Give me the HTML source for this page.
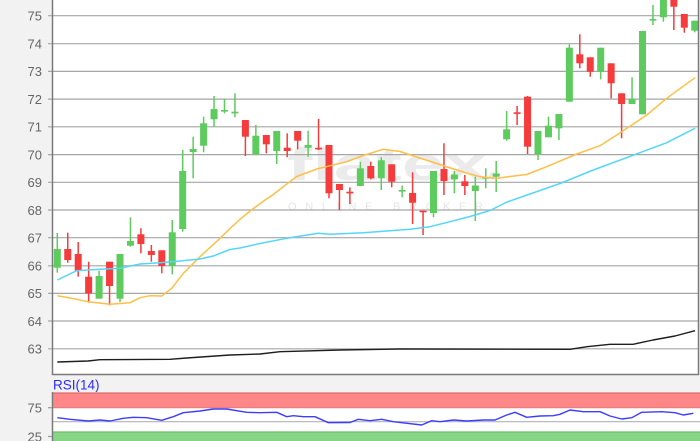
<!DOCTYPE html>
<html><head><meta charset="utf-8"><style>
html,body{margin:0;padding:0;background:#f2f2f2;}
svg{display:block;}
.ax{font-family:"Liberation Sans",Arial,sans-serif;font-size:13px;fill:#666;}
.g line{stroke:#5dcb5d;stroke-width:1.5;}
.g rect{fill:#5dcb5d;}
.r line{stroke:#f53b3b;stroke-width:1.5;}
.r rect{fill:#f53b3b;}
</style></head><body>
<svg width="700" height="441" viewBox="0 0 700 441" xmlns="http://www.w3.org/2000/svg">
<rect x="0" y="0" width="700" height="441" fill="#f2f2f2"/>
<!-- main plot bg -->
<rect x="52" y="0" width="646.5" height="374.5" fill="#ffffff"/>
<defs><clipPath id="pc"><rect x="52.5" y="0" width="645.5" height="374"/></clipPath></defs>
<!-- watermark -->
<text x="287" y="180" textLength="200" lengthAdjust="spacingAndGlyphs" font-family="Liberation Sans, sans-serif" font-weight="bold" font-size="46" fill="#ebebeb">flatex</text>
<circle cx="493" cy="176" r="4" fill="#ebebeb"/>
<text x="288" y="210" textLength="195" lengthAdjust="spacing" font-family="Liberation Sans, sans-serif" font-size="11" fill="#e6e6e6">ONLINE BROKER</text>
<!-- grid -->
<g stroke="#a6a6a6" stroke-width="1.2">
<line x1="48" y1="15.7" x2="698" y2="15.7"/>
<line x1="48" y1="43.7" x2="698" y2="43.7"/>
<line x1="48" y1="71.4" x2="698" y2="71.4"/>
<line x1="48" y1="99.1" x2="698" y2="99.1"/>
<line x1="48" y1="126.8" x2="698" y2="126.8"/>
<line x1="48" y1="154.6" x2="698" y2="154.6"/>
<line x1="48" y1="182.3" x2="698" y2="182.3"/>
<line x1="48" y1="210" x2="698" y2="210"/>
<line x1="48" y1="237.7" x2="698" y2="237.7"/>
<line x1="48" y1="265.8" x2="698" y2="265.8"/>
<line x1="48" y1="293.4" x2="698" y2="293.4"/>
<line x1="48" y1="321" x2="698" y2="321"/>
<line x1="48" y1="348.8" x2="698" y2="348.8"/>
</g>
<!-- y labels -->
<g class="ax" text-anchor="end">
<text x="42" y="20.5">75</text>
<text x="42" y="48.5">74</text>
<text x="42" y="76.2">73</text>
<text x="42" y="103.9">72</text>
<text x="42" y="131.6">71</text>
<text x="42" y="159.4">70</text>
<text x="42" y="187.1">69</text>
<text x="42" y="214.8">68</text>
<text x="42" y="242.5">67</text>
<text x="42" y="270.6">66</text>
<text x="42" y="298.2">65</text>
<text x="42" y="325.8">64</text>
<text x="42" y="353.6">63</text>
</g>
<g clip-path="url(#pc)">
<!-- candles -->
<g class="g"><line x1="57.3" y1="233" x2="57.3" y2="272.7"/><rect x="53.8" y="249" width="7" height="18.7"/></g>
<g class="r"><line x1="67.75" y1="232.7" x2="67.75" y2="262.7"/><rect x="64.25" y="249" width="7" height="11"/></g>
<g class="r"><line x1="78.2" y1="242" x2="78.2" y2="276.7"/><rect x="74.7" y="254" width="7" height="16.7"/></g>
<g class="r"><line x1="88.65" y1="261.7" x2="88.65" y2="302.7"/><rect x="85.15" y="276.7" width="7" height="16.6"/></g>
<g class="g"><line x1="99.1" y1="270.7" x2="99.1" y2="298.7"/><rect x="95.6" y="276" width="7" height="22.7"/></g>
<g class="r"><line x1="109.55" y1="261.7" x2="109.55" y2="305.3"/><rect x="106.05" y="261.7" width="7" height="24.3"/></g>
<g class="g"><line x1="120" y1="254" x2="120" y2="302"/><rect x="116.5" y="254" width="7" height="44.7"/></g>
<g class="g"><line x1="130.45" y1="217.3" x2="130.45" y2="246.7"/><rect x="126.95" y="241" width="7" height="4.7"/></g>
<g class="r"><line x1="140.9" y1="228.3" x2="140.9" y2="253.3"/><rect x="137.4" y="234.3" width="7" height="9.7"/></g>
<g class="r"><line x1="151.35" y1="245" x2="151.35" y2="261.7"/><rect x="147.85" y="251" width="7" height="4"/></g>
<g class="r"><line x1="161.8" y1="250.3" x2="161.8" y2="273.3"/><rect x="158.3" y="250.3" width="7" height="15.7"/></g>
<g class="g"><line x1="172.25" y1="220" x2="172.25" y2="274.3"/><rect x="168.75" y="232.3" width="7" height="33.7"/></g>
<g class="g"><line x1="182.7" y1="150" x2="182.7" y2="231.7"/><rect x="179.2" y="171" width="7" height="58"/></g>
<g class="g"><line x1="193.15" y1="136.7" x2="193.15" y2="178.3"/><rect x="189.65" y="149" width="7" height="3"/></g>
<g class="g"><line x1="203.6" y1="116.7" x2="203.6" y2="152.3"/><rect x="200.1" y="123.3" width="7" height="22.4"/></g>
<g class="g"><line x1="214.05" y1="96" x2="214.05" y2="126.7"/><rect x="210.55" y="109" width="7" height="10.3"/></g>
<g class="g"><line x1="224.5" y1="99" x2="224.5" y2="113.3"/><rect x="221" y="110" width="7" height="1.6"/></g>
<g class="g"><line x1="234.95" y1="93.3" x2="234.95" y2="117.3"/><rect x="231.45" y="111.7" width="7" height="1.7"/></g>
<g class="r"><line x1="245.4" y1="120" x2="245.4" y2="156"/><rect x="241.9" y="120" width="7" height="16.7"/></g>
<g class="g"><line x1="255.85" y1="125" x2="255.85" y2="155"/><rect x="252.35" y="135.7" width="7" height="18.6"/></g>
<g class="r"><line x1="266.3" y1="135" x2="266.3" y2="153.3"/><rect x="262.8" y="135" width="7" height="9.3"/></g>
<g class="g"><line x1="276.75" y1="131" x2="276.75" y2="164"/><rect x="273.25" y="131" width="7" height="20"/></g>
<g class="r"><line x1="287.2" y1="133.3" x2="287.2" y2="157.3"/><rect x="283.7" y="147.7" width="7" height="3.3"/></g>
<g class="r"><line x1="297.65" y1="131" x2="297.65" y2="149.3"/><rect x="294.15" y="131" width="7" height="9.7"/></g>
<g class="g"><line x1="308.1" y1="130.7" x2="308.1" y2="156.7"/><rect x="304.6" y="145" width="7" height="2.7"/></g>
<g class="r"><line x1="318.55" y1="119" x2="318.55" y2="150"/><rect x="315.05" y="147.8" width="7" height="1.6"/></g>
<g class="r"><line x1="329" y1="145" x2="329" y2="198.3"/><rect x="325.5" y="145" width="7" height="48.3"/></g>
<g class="r"><line x1="339.45" y1="184" x2="339.45" y2="210"/><rect x="335.95" y="184" width="7" height="6"/></g>
<g class="r"><line x1="349.9" y1="187.3" x2="349.9" y2="204"/><rect x="346.4" y="191.7" width="7" height="1.7"/></g>
<g class="g"><line x1="360.35" y1="161.7" x2="360.35" y2="186"/><rect x="356.85" y="168.3" width="7" height="17.7"/></g>
<g class="r"><line x1="370.8" y1="161.7" x2="370.8" y2="179.3"/><rect x="367.3" y="166" width="7" height="12.3"/></g>
<g class="g"><line x1="381.25" y1="157.3" x2="381.25" y2="190"/><rect x="377.75" y="160.3" width="7" height="18"/></g>
<g class="r"><line x1="391.7" y1="164.3" x2="391.7" y2="187.3"/><rect x="388.2" y="164.3" width="7" height="17.4"/></g>
<g class="g"><line x1="402.15" y1="185.5" x2="402.15" y2="197.3"/><rect x="398.65" y="190" width="7" height="1.6"/></g>
<g class="r"><line x1="412.6" y1="172.3" x2="412.6" y2="224"/><rect x="409.1" y="193" width="7" height="9.7"/></g>
<g class="r"><line x1="423.05" y1="210.7" x2="423.05" y2="235"/><rect x="419.55" y="210.7" width="7" height="1.6"/></g>
<g class="g"><line x1="433.5" y1="171" x2="433.5" y2="217.3"/><rect x="430" y="171" width="7" height="42"/></g>
<g class="r"><line x1="443.95" y1="143.3" x2="443.95" y2="195"/><rect x="440.45" y="169" width="7" height="12"/></g>
<g class="g"><line x1="454.4" y1="171" x2="454.4" y2="193.3"/><rect x="450.9" y="174.5" width="7" height="4.8"/></g>
<g class="r"><line x1="464.85" y1="175" x2="464.85" y2="195"/><rect x="461.35" y="181.3" width="7" height="4.7"/></g>
<g class="g"><line x1="475.3" y1="176.7" x2="475.3" y2="221"/><rect x="471.8" y="185.5" width="7" height="5.5"/></g>
<g class="g"><line x1="485.75" y1="168.3" x2="485.75" y2="188.3"/><rect x="482.25" y="177" width="7" height="1.6"/></g>
<g class="g"><line x1="496.2" y1="161" x2="496.2" y2="192"/><rect x="492.7" y="173.5" width="7" height="3.2"/></g>
<g class="g"><line x1="506.65" y1="111" x2="506.65" y2="140.7"/><rect x="503.15" y="129.3" width="7" height="10"/></g>
<g class="r"><line x1="517.1" y1="106" x2="517.1" y2="125"/><rect x="513.6" y="112.3" width="7" height="1.6"/></g>
<g class="r"><line x1="527.55" y1="96" x2="527.55" y2="154"/><rect x="524.05" y="96.7" width="7" height="50"/></g>
<g class="g"><line x1="538" y1="131" x2="538" y2="160"/><rect x="534.5" y="131" width="7" height="23.3"/></g>
<g class="g"><line x1="548.45" y1="116.7" x2="548.45" y2="137.3"/><rect x="544.95" y="125.7" width="7" height="11.6"/></g>
<g class="g"><line x1="558.9" y1="114" x2="558.9" y2="140"/><rect x="555.4" y="114" width="7" height="14.3"/></g>
<g class="g"><line x1="569.35" y1="44.3" x2="569.35" y2="101.7"/><rect x="565.85" y="47.7" width="7" height="54"/></g>
<g class="r"><line x1="579.8" y1="34.3" x2="579.8" y2="68.3"/><rect x="576.3" y="54.3" width="7" height="9"/></g>
<g class="r"><line x1="590.25" y1="57.3" x2="590.25" y2="76.7"/><rect x="586.75" y="57.3" width="7" height="14.4"/></g>
<g class="g"><line x1="600.7" y1="47.7" x2="600.7" y2="79.3"/><rect x="597.2" y="47.7" width="7" height="24"/></g>
<g class="r"><line x1="611.15" y1="63.3" x2="611.15" y2="98.3"/><rect x="607.65" y="63.3" width="7" height="20"/></g>
<g class="r"><line x1="621.6" y1="93.3" x2="621.6" y2="138.3"/><rect x="618.1" y="93.3" width="7" height="10.7"/></g>
<g class="g"><line x1="632.05" y1="77.3" x2="632.05" y2="104"/><rect x="628.55" y="99" width="7" height="5"/></g>
<g class="g"><line x1="642.5" y1="31" x2="642.5" y2="114.3"/><rect x="639" y="31" width="7" height="83.3"/></g>
<g class="g"><line x1="652.95" y1="5" x2="652.95" y2="25"/><rect x="649.45" y="19" width="7" height="1.6"/></g>
<g class="g"><line x1="663.4" y1="-2" x2="663.4" y2="21.7"/><rect x="659.9" y="-2" width="7" height="19.3"/></g>
<g class="r"><line x1="673.85" y1="-2" x2="673.85" y2="30"/><rect x="670.35" y="-2" width="7" height="8.7"/></g>
<g class="r"><line x1="684.3" y1="14" x2="684.3" y2="32.7"/><rect x="680.8" y="14" width="7" height="13.7"/></g>
<g class="g"><line x1="694.75" y1="20.7" x2="694.75" y2="32.3"/><rect x="691.25" y="20.7" width="7" height="10"/></g>
<!-- MA lines -->
<polyline fill="none" stroke="#ffbf45" stroke-width="1.5" stroke-linejoin="round" points="57.3,295.7 70,298 88,301.7 110,304.3 130,302.7 140,297.7 150,295.7 161.7,296 171.7,288.3 183.3,273.3 200,256.7 220,238.3 230,228.5 240,219.3 252,209.5 265,200 273.3,194.5 283.3,186.7 296.7,176.5 316.7,169 346.7,161.7 363.3,155.5 383,149.3 400,151.5 416.7,157 436.7,163.5 456.7,170 470,174 480,176.7 497,178.3 510,176.5 526.7,174.5 533,172 546.7,166.7 576.7,154 600,145.7 616.7,135 633.3,124 646.7,115 666.7,98.3 695,77.7"/>
<polyline fill="none" stroke="#55d6f8" stroke-width="1.5" stroke-linejoin="round" points="57.3,280 76.7,270.7 100,269.3 120,268.3 140,264 160,262.7 180,261 200,259 213.3,256 230,249.5 240,248 260,243.5 286.7,238.3 318.3,233.3 330,234.3 363.3,232.7 386.7,231 410,229.3 430,226.7 450,221.7 470,216.5 490,210.5 507,202 540,190.5 560,183.5 593.3,170 640,152.7 666.7,142.7 695,128.3"/>
<polyline fill="none" stroke="#1e1e1e" stroke-width="1.4" stroke-linejoin="round" points="57.3,362 88,361 100,359.7 170,359.3 186.7,358 230,355 260,354 280,351.7 340,350 400,349 570,349.3 587,346.7 610,344.3 633,344.3 653,340 675,336 695,330.7"/>
</g>
<!-- frame -->
<g stroke="#7a7a7a" stroke-width="1.5" fill="none">
<line x1="52.5" y1="0" x2="52.5" y2="375"/>
<line x1="52" y1="374.5" x2="699" y2="374.5"/>
<line x1="698.5" y1="0" x2="698.5" y2="375"/>
</g>
<!-- RSI panel -->
<text x="53" y="389.5" font-family="Liberation Sans, sans-serif" font-size="13.5" fill="#2b2bff">RSI(14)</text>
<rect x="52" y="392" width="648" height="49" fill="#ffffff"/>
<rect x="52" y="392.5" width="648" height="15.5" fill="#ff8787"/>
<line x1="52" y1="393" x2="700" y2="393" stroke="#d86a6a" stroke-width="1.2"/>
<line x1="52" y1="407.7" x2="700" y2="407.7" stroke="#e47a7a" stroke-width="1"/>
<line x1="52" y1="421.7" x2="700" y2="421.7" stroke="#b3b3b3" stroke-width="1.2"/>
<rect x="52" y="431.5" width="648" height="9.5" fill="#86d486"/>
<line x1="52" y1="432" x2="700" y2="432" stroke="#6cc06c" stroke-width="1.2"/>
<line x1="52.5" y1="392" x2="52.5" y2="441" stroke="#7a7a7a" stroke-width="1.5"/>
<line x1="48" y1="407.7" x2="52" y2="407.7" stroke="#999" stroke-width="1.2"/>
<line x1="48" y1="436.5" x2="52" y2="436.5" stroke="#999" stroke-width="1.2"/>
<g class="ax" text-anchor="end">
<text x="42" y="412.5">75</text>
<text x="42" y="441.5">25</text>
</g>
<polyline fill="none" stroke="#3d3dff" stroke-width="1.4" stroke-linejoin="round" points="57.3,417.7 70,419.3 88.3,421 100,420 110,421 123.3,418.3 133.3,417.3 146.7,417.7 161.7,420.3 173.3,416.7 183.3,412.7 200,411 213.3,409 226.7,409 246.7,412.3 260,412.7 276.7,412.3 286.7,416.7 293.3,415.7 303.3,416.7 315,416.7 328.3,422.7 350,422.5 358.3,419.3 370,420.7 381.7,419.3 393.3,421.7 421.7,425 431.7,420.7 440,421.7 453.3,420 466.7,421 483.3,420 495,420 506.7,415 515,412.3 526.7,417.3 540,416 553.3,415.7 560,414.3 570,410 583.3,411.7 600,411.7 610,416 621.7,419 631.7,417.7 641.7,412.3 661.7,411.7 675,412.7 683.3,415 693.3,413.3"/>
</svg>
</body></html>
